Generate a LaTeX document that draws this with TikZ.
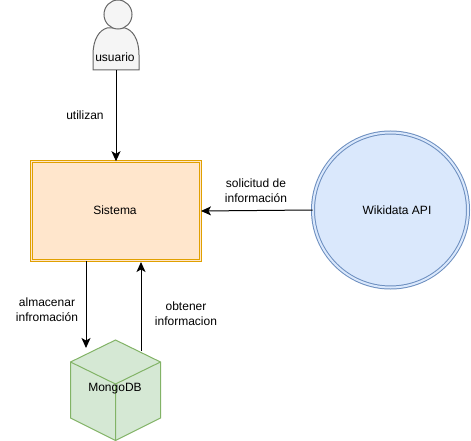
\documentclass[tikz,border=0pt]{standalone}
\usepackage{fontspec}
\setmainfont{Liberation Sans}
\usepackage{tikz}
\usetikzlibrary{positioning,arrows.meta}
\definecolor{sysfill}{HTML}{FFE6CC}
\definecolor{sysdraw}{HTML}{E0A000}
\definecolor{wikifill}{HTML}{DAE8FC}
\definecolor{wikidraw}{HTML}{6C8EBF}
\definecolor{dbfill}{HTML}{D5E8D4}
\definecolor{dbdraw}{HTML}{82B366}
\definecolor{userfill}{HTML}{F5F5F5}
\definecolor{userdraw}{HTML}{666666}

\begin{document}
\begin{tikzpicture}[x=1pt,y=-1pt,>={Stealth[length=10pt,width=9pt,inset=2.5pt]},line width=1pt,auto,
                    every node/.style={font=\fontsize{12}{15}\selectfont,align=center}]
  \tikzset{
    system/.style={rectangle,draw=sysdraw,fill=sysfill,double=sysfill,double distance=1.2pt,
                   minimum width=169pt,minimum height=98.5pt},
    api/.style={circle,draw=wikidraw,fill=wikifill,double=wikifill,double distance=2pt,
                minimum size=155pt},
    ghost/.style={rectangle,inner sep=0pt}
  }
  \useasboundingbox (0,0) rectangle (471,441);

  % actor
  \path[draw=userdraw,fill=userfill] (93,70) -- (93,55) .. controls (93,38) and (100,30) .. (107,28)
     -- (125,28) .. controls (132,30) and (139,38) .. (139,55) -- (139,70) -- cycle;
  \path[draw=userdraw,fill=userfill] (118,14.5) ellipse [x radius=14,y radius=14.5];

  % cube
  \path[draw=dbdraw,fill=dbfill] (115.5,340) -- (160.5,362) -- (160.5,418) -- (115.5,440.5)
     -- (70.5,418) -- (70.5,362) -- cycle;
  \path[draw=dbdraw] (70.5,362) -- (115.5,384) -- (160.5,362) (115.5,384) -- (115.5,440.5);

  \node[system]                      (sistema) at (116,211) {};
  \node[ghost]                       (sistematxt) at (115,210) {Sistema};
  \node[api]                         (wiki)    at (390.5,210) {};
  \node[ghost]                       (wikitxt) at (397,210) {Wikidata API};
  \node[ghost,minimum width=46pt,minimum height=70pt] (usuario) at (116,35) {};
  \node[ghost]                       (usuariotxt) at (115,57)  {usuario};
  \node[ghost]                       (mongo)   at (115,389) {MongoDB};

  \coordinate (guardar)  at (86,348);
  \coordinate (guardars) at (86,261);
  \coordinate (leer)     at (141,351);
  \coordinate (leers)    at (141,262);

  \draw[->] (usuario.south) -- (sistema.north);
  \draw[->] (wiki.west)     -- (sistema.east);
  \draw[->] (guardars)      -- (guardar);
  \draw[->] (leer)          -- (leers);

  \node[ghost] (utilizan) at (85,115)  {utilizan};
  \node[ghost] (solicitud) at (256,191) {solicitud de\\información};
  \node[ghost] (almacenar) at (47,310) {almacenar\\infromación};
  \node[ghost] (obtener)   at (186,314) {obtener\\informacion};
\end{tikzpicture}
\end{document}
